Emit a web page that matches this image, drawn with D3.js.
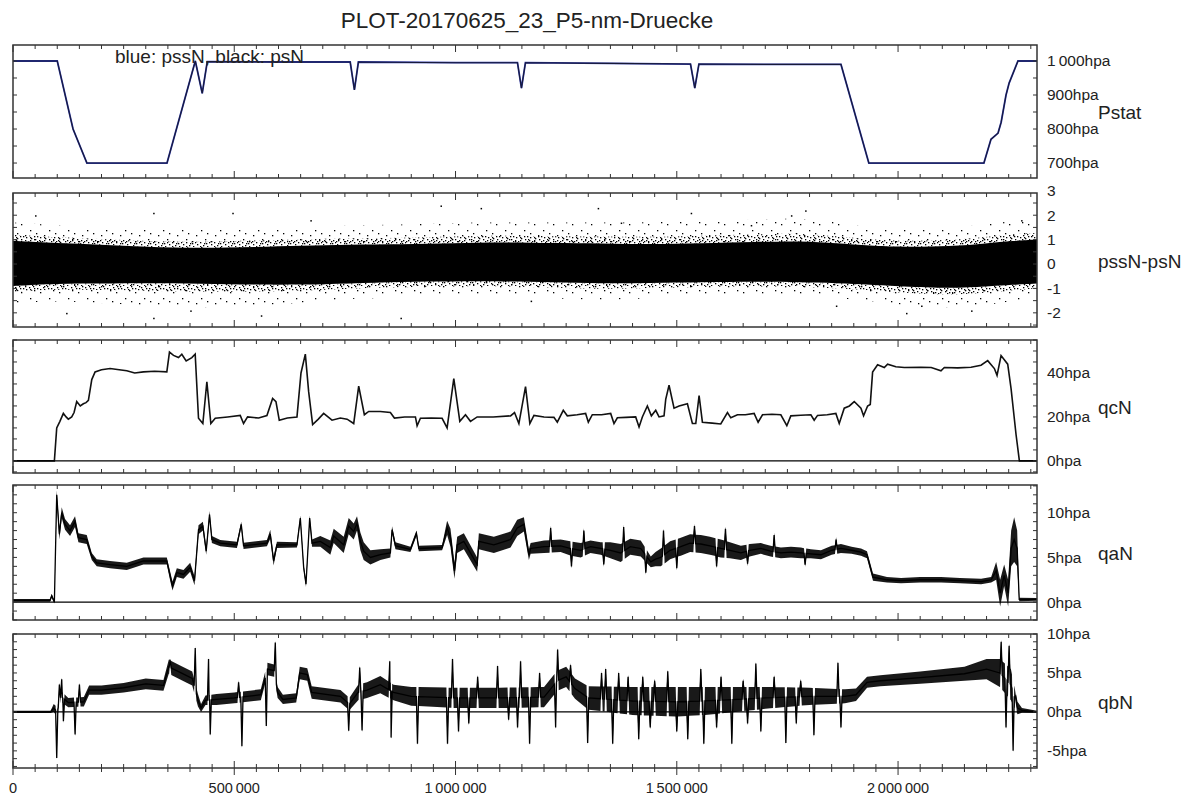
<!DOCTYPE html>
<html lang="en">
<head>
<meta charset="UTF-8">
<title>PLOT-20170625_23_P5-nm-Druecke</title>
<script src="https://d3js.org/d3.v7.min.js"></script>
<style>
    body { margin: 0; background: #fff; }
    svg text { font-family: "Liberation Sans", Arial, sans-serif; fill: #222; }
</style>
</head>
<body>
<svg id="chart" width="1193" height="799"></svg>
<script>
// ---- data (x = sample index) ----
const xMax = 2314000;
const xLabelValues = [0, 500000, 1000000, 1500000, 2000000];
const xLabels = ["0", "500\u2009000", "1\u2009000\u2009000", "1\u2009500\u2009000", "2\u2009000\u2009000"];

// Pstat [x, hpa]
const pssN = [[0,1000],[100000,1000],[135700,800],[167000,700],[348000,700],[412000,1000],[427600,905],
    [439000,998],[600000,997],[762000,997],[771500,915],[780500,997],[1000000,995],[1140000,995],[1149000,920],
    [1158000,995],[1350000,993],[1531000,991],[1540700,920],[1550000,991],[1700000,990],[1871000,990],
    [1934000,700],[2194000,700],[2210000,770],[2226000,788],[2233000,820],[2244000,900],[2251000,935],
    [2271000,1000],[2314000,1000]];
const psN = pssN; // the two traces lie on top of each other at this scale
const pstatTicks = [700, 800, 900, 1000];

// pssN-psN band [x, coreHi, coreLo, outerHi, outerLo]
const diffBand = [[0,0.95,-0.9,1.7,-1.6],[100000,0.85,-0.8,1.6,-1.5],[196800,0.8,-0.8,1.5,-1.6],
    [300000,0.7,-0.78,1.4,-1.7],[423100,0.65,-0.8,1.4,-1.8],[550000,0.7,-0.85,1.5,-1.7],
    [649300,0.75,-0.85,1.5,-1.6],[760000,0.8,-0.8,1.6,-1.4],[875500,0.8,-0.72,1.6,-1.4],
    [1000000,0.85,-0.72,1.7,-1.3],[1101800,0.9,-0.7,1.7,-1.3],[1220000,0.85,-0.75,1.7,-1.4],
    [1328000,0.85,-0.8,1.7,-1.5],[1440000,0.8,-0.78,1.7,-1.4],[1554300,0.85,-0.75,1.8,-1.3],
    [1680000,0.9,-0.72,1.8,-1.3],[1780500,0.95,-0.75,1.9,-1.3],[1860000,0.85,-0.78,1.7,-1.4],
    [1938900,0.75,-0.85,1.5,-1.5],[2006700,0.7,-0.92,1.4,-1.7],[2119900,0.72,-1.0,1.5,-1.8],
    [2200000,0.85,-0.92,1.6,-1.7],[2260000,0.95,-0.85,1.8,-1.5],[2314000,1.0,-0.8,1.8,-1.4]];
const diffOutliers = [[49800,2.0],[120000,-2.0],[316700,2.1],[316700,-2.2],[400500,-1.9],[495500,2.1],
    [560000,-2.1],[671900,1.8],[875500,-2.2],[966000,2.4],[1056600,2.3],[1169700,-1.5],[1321200,2.3],
    [1373300,1.7],[1531400,2.1],[1667100,1.6],[1757900,2.0],[1790000,2.2],[1859500,-1.7],[2018000,-2.0],
    [2052000,-1.7],[2165000,-1.9],[2278000,1.8]];
const diffTicks = [-2, -1, 0, 1, 2, 3];

// qcN [x, hpa]
const qcN = [[0,0],[93500,0],[98800,15],[106000,18],[113800,21.6],[120000,20],[125000,19],[132700,20],
    [138000,22],[144000,27],[152000,25],[159000,26],[165000,26.5],[170400,27.5],[178000,37],[185500,40.5],
    [200000,41.5],[219400,42],[240000,41.5],[257100,41],[275000,40],[294800,40.5],[320000,40.8],[347600,40.5],
    [353600,49.5],[362700,48],[374000,47],[381500,48.5],[391300,45.5],[404200,47],[411700,48.6],
    [419200,19.4],[429000,17],[438100,36],[447100,17],[457000,19.4],[485000,20],[513500,20.7],[521000,17],
    [530100,20],[555000,19.5],[573800,20.6],[586700,28.4],[594200,27],[601700,18.5],[620000,19.5],
    [641700,20],[650800,40],[660600,48.6],[668100,31.5],[677100,16.5],[690000,19],[702000,21.6],
    [720900,18.5],[739700,19.5],[755000,19],[769900,17],[781200,34],[794000,21],[803800,22.5],
    [830000,22.5],[852800,22],[861900,19.5],[885000,20],[909400,20],[913200,16],[920700,19.4],[945000,19.5],
    [969700,19.4],[981000,15],[996100,37.4],[1009700,18],[1022500,21],[1033800,18],[1048900,20],
    [1085000,20],[1124300,20.5],[1133300,22],[1143200,17],[1158200,33.8],[1168000,17],[1177200,20.7],
    [1200000,20],[1222400,19.8],[1230000,17.6],[1243500,23],[1252600,20.5],[1275000,21],[1294000,21.6],
    [1300100,17.6],[1309100,21],[1330000,21],[1350600,21.6],[1358100,17],[1365700,19.6],[1385000,19.8],
    [1407100,20],[1414700,15.4],[1422200,20],[1433500,25],[1442600,20.5],[1452400,23],[1459900,20],
    [1471200,20.5],[1475000,28],[1482500,34.4],[1493800,24],[1505200,25],[1524000,26],[1535300,17],
    [1542900,17],[1550400,29.7],[1557900,17.6],[1580000,17.2],[1599400,16.8],[1614500,22],[1622000,19.6],
    [1637100,21],[1655000,21],[1674800,21.6],[1683800,17.6],[1693700,21],[1715000,21.2],[1735100,21],
    [1748700,16],[1757700,20.5],[1780000,20.8],[1803000,21],[1810500,18.5],[1818100,20.7],[1840000,21],
    [1859500,21.6],[1867100,17],[1878400,24],[1890000,25],[1901000,27],[1916100,24],[1922100,20.5],
    [1931200,25],[1937200,25.7],[1942500,40.4],[1953800,43.7],[1968900,42.5],[1976400,44],[1995000,42.8],
    [2014100,42.5],[2051800,42.6],[2075000,42.5],[2097000,41],[2104600,42.5],[2135000,42.3],[2164900,42.6],
    [2187500,43.5],[2202600,45.6],[2217700,42],[2223700,38.9],[2232800,47.9],[2247800,44],[2255400,32.9],
    [2266700,11.9],[2274200,0],[2314000,0]];
const qcTicks = [0, 20, 40];

// qaN [x, hpa, noise half-width]
const qaN = [[0,0.2,0.15],[83700,0.2,0.15],[87500,0.7,0.2],[93500,0,0.15],[98800,12,0.5],[104800,7.6,0.6],
    [110100,10,0.6],[117600,8.7,0.6],[128900,8,0.6],[140200,9,0.6],[147800,7.2,0.5],[166600,7,0.5],
    [178000,5.1,0.4],[189200,4.4,0.4],[219400,4.2,0.4],[257100,4,0.4],[294800,4.6,0.4],[347600,4.6,0.4],
    [355200,2.9,0.5],[360400,1.8,0.5],[370200,3.3,0.5],[385300,3.1,0.5],[400400,3.9,0.5],[410200,2.4,0.5],
    [419200,8.1,0.5],[429100,8.5,0.5],[436600,5.7,0.4],[444100,9.8,0.4],[449400,7,0.4],[468300,6.6,0.35],
    [506000,6.4,0.35],[515800,8.7,0.3],[521000,6.3,0.35],[573800,6.6,0.35],[581400,7.6,0.5],
    [588900,4.6,0.5],[596400,6.4,0.35],[641700,6.4,0.3],[649300,9.4,0.3],[656800,3.9,0.3],
    [662100,2,0.3],[670400,9.4,0.3],[675700,6.6,0.4],[694500,6.8,0.6],[717100,6.1,0.8],[724700,7.4,0.8],
    [747300,6.4,0.9],[758600,8.5,0.9],[769900,7.9,0.9],[777400,8.8,0.8],[785000,6.8,1.0],[792500,5.7,1.0],
    [807600,5,0.8],[830200,5.3,0.6],[852800,5.5,0.5],[856600,8.1,0.4],[864200,6.3,0.4],[898100,5.9,0.3],
    [911700,7.7,0.3],[917000,6,0.3],[969700,6.1,0.3],[981000,8.3,0.8],[988600,7.2,1.0],[997600,3.5,0.9],
    [1003700,6.4,0.9],[1018800,6.8,0.9],[1048900,4.2,0.8],[1052700,6.8,0.9],[1086600,6.4,0.9],
    [1124300,7,0.9],[1139400,8.3,0.9],[1154500,8.7,0.8],[1165800,5.3,0.6],[1169700,6,0.6],
    [1200000,6.2,0.7],[1237500,6.3,0.7],[1260000,6.0,0.8],[1282800,5.8,0.8],[1305000,6.2,0.7],
    [1328000,6,0.7],[1350000,5.8,0.9],[1373300,5.5,1.0],[1395000,6.2,0.9],[1418500,6,0.9],
    [1441200,4.5,0.6],[1452000,4.8,0.8],[1463800,5,1.0],[1485000,5.8,1.0],[1509000,6.2,1.0],
    [1530000,6.6,1.0],[1554300,6.5,1.0],[1575000,6.3,1.0],[1599500,6,1.0],[1620000,5.8,0.9],
    [1644800,5.5,0.8],[1665000,5.8,0.7],[1690000,6,0.6],[1712000,5.7,0.6],[1735300,5.5,0.6],
    [1758000,5.6,0.6],[1780500,5.5,0.6],[1803000,5.4,0.5],[1825800,5.3,0.5],[1850000,5.8,0.5],
    [1871000,6,0.5],[1895000,5.8,0.4],[1916300,5.6,0.4],[1929800,5.3,0.4],[1943400,2.8,0.4],
    [1975000,2.5,0.3],[2006700,2.4,0.3],[2050000,2.5,0.3],[2097200,2.5,0.3],[2140000,2.4,0.3],
    [2187700,2.3,0.3],[2210400,2.5,0.3],[2221700,3.5,1.0],[2230700,1,1.5],[2239800,3,1.2],
    [2248800,1,1.5],[2255600,6,2.0],[2262400,7,2.5],[2269200,6,2.0],[2273800,0.3,0.2],[2314000,0.3,0.15]];
const qaSpikes = [[1215000,8.3],[1262000,4.0],[1290000,8.0],[1335000,4.2],[1380000,8.4],[1430000,3.3],
    [1470000,8.0],[1500000,3.8],[1540000,8.5],[1590000,4.0],[1610000,8.2],[1660000,4.3],[1720000,7.5],
    [1790000,4.2],[1860000,7.0]];
const qaTicks = [0, 5, 10];

// qbN base trace [x, hpa, noise half-width] and narrow spikes [x, hpa]
const qbBase = [[0,0,0.15],[85000,0,0.15],[92000,0.5,0.5],[100000,0,0.6],[108000,2.0,0.7],[125000,1.2,0.6],
    [160000,1.3,0.6],[172000,2.8,0.6],[200000,2.8,0.6],[250000,3.1,0.6],[300000,3.6,0.7],[340000,3.4,0.7],
    [352000,5.8,0.9],[380000,5.0,0.9],[405000,4.3,0.9],[418000,1.5,0.8],[425000,0.5,0.5],[435000,1.5,0.6],
    [460000,1.6,0.7],[500000,1.8,0.7],[560000,2.2,0.7],[575000,5.5,0.8],[590000,5.3,0.8],[598000,2.5,0.7],
    [610000,1.6,0.6],[640000,1.8,0.6],[648000,5.0,0.8],[665000,4.8,0.8],[675000,2.5,0.8],[740000,2.0,0.8],
    [760000,1.0,0.8],[780000,2.5,1.0],[800000,2.8,1.0],[830000,3.5,1.1],[860000,2.5,1.0],[900000,2.0,1.2],
    [1000000,1.8,1.3],[1100000,1.8,1.3],[1200000,1.9,1.3],[1230000,4.0,1.3],[1250000,4.5,1.3],
    [1270000,3.0,1.3],[1300000,1.8,1.5],[1400000,1.4,1.8],[1500000,1.3,1.9],[1560000,1.4,1.8],
    [1600000,1.5,1.7],[1700000,1.8,1.4],[1800000,2.0,1.1],[1880000,2.0,0.9],[1905000,2.2,0.8],
    [1930000,3.8,0.7],[1960000,4.0,0.7],[2050000,4.4,0.8],[2150000,4.9,0.9],[2200000,5.5,1.3],
    [2230000,5.0,1.8],[2255000,3.5,2.0],[2270000,0.5,0.8],[2280000,0.2,0.3],[2314000,0,0.15]];
const qbSpikes = [[98800,-5.9],[104800,3.5],[110100,4.2],[113900,-1.2],[140300,-2.9],[150100,3.5],
    [355200,6.5],[411800,8.2],[441900,6.8],[445700,-2.9],[509800,3.8],[517300,-4.4],[572400,-1.8],
    [592700,8.9],[758600,-2.4],[783500,5.7],[788800,-2.4],[851400,6.5],[854400,-3.3],[914000,-4.1],
    [981900,-4.1],[993200,6.8],[1006800,-2.5],[1030000,-1.5],[1050000,4.5],[1095000,5.9],[1120000,-1.0],
    [1140200,-2],[1147000,6.5],[1167400,-4.1],[1190000,5.0],[1226200,-2],[1230700,8],[1260000,6.0],
    [1298600,-4],[1330000,5.0],[1339300,5.5],[1355200,-4.1],[1368700,5],[1390000,4.5],[1414000,-3.5],
    [1423100,4.5],[1440000,-2.0],[1450000,4.0],[1479600,5.2],[1500000,-2.5],[1524800,-3.5],[1554300,5.5],
    [1561100,-4.1],[1590000,-2.0],[1600000,4.5],[1624400,-4.1],[1650000,4.0],[1660000,-1.5],[1678700,6.2],
    [1690000,-2.5],[1720000,4.5],[1746500,-4],[1770000,-1.5],[1780000,4.0],[1809900,-3],[1864200,6.3],
    [1871000,-2],[2233000,9],[2244000,-2],[2251000,8.5],[2260000,-5.0],[2266000,2]];
const qbTicks = [-5, 0, 5, 10];

// ---- layout ----
const svg = d3.select("#chart");
const left = 13, right = 1037;
const x = d3.scaleLinear().domain([0, xMax]).range([left, right]);

const panels = [
    { name: "Pstat", top: 45, bottom: 178, domain: [656, 1047], step: 50, ticks: pstatTicks, unit: "hpa" },
    { name: "pssN-psN", top: 193, bottom: 327, domain: [-2.58, 2.91], step: 0.5, ticks: diffTicks, unit: "" },
    { name: "qcN", top: 340, bottom: 473, domain: [-5.5, 55], step: 5, ticks: qcTicks, unit: "hpa", zero: true },
    { name: "qaN", top: 485, bottom: 620, domain: [-2, 13.1], step: 1, ticks: qaTicks, unit: "hpa", zero: true },
    { name: "qbN", top: 634, bottom: 768, domain: [-7.2, 10], step: 1, ticks: qbTicks, unit: "hpa", zero: true }
];

const fmtNum = v => {
    const s = String(Math.abs(v));
    const t = s.length > 3 ? s.slice(0, s.length - 3) + "\u2009" + s.slice(-3) : s;
    return (v < 0 ? "-" : "") + t;
};

// merge narrow spikes into a base trace
function withSpikes(base, spikes, w) {
    const xs = base.map(d => d[0]);
    const at = xv => {
        const i = Math.max(1, Math.min(xs.length - 1, d3.bisectLeft(xs, xv)));
        const a = base[i - 1], b = base[i], t = (xv - a[0]) / (b[0] - a[0]);
        return [a[1] + (b[1] - a[1]) * t, a[2] + (b[2] - a[2]) * t];
    };
    const pts = base.filter(d => !spikes.some(s => Math.abs(s[0] - d[0]) < w));
    spikes.forEach(([sx, sv]) => {
        const l = at(sx - w), r = at(sx + w);
        pts.push([sx - w, l[0], l[1]], [sx, sv, 0.25], [sx + w, r[0], r[1]]);
    });
    return pts.sort((a, b) => a[0] - b[0]);
}

// stipple patterns for the scatter fringe
const defs = svg.append("defs");
const denseDots = [[1,1],[5,0],[9,2],[3,4],[7,5],[11,6],[0,7],[4,8],[8,9],[6,2],[2,6],[10,9],[12,3],[13,8],[1,10],[7,11],[11,12],[4,12],[9,7],[2,3]];
const sparseDots = [[2,3],[11,9],[6,14],[15,1],[17,12]];
[["dense", 14, 13, denseDots], ["sparse", 19, 17, sparseDots]].forEach(([id, w, h, dots]) => {
    const p = defs.append("pattern").attr("id", id).attr("patternUnits", "userSpaceOnUse")
        .attr("width", w).attr("height", h);
    dots.forEach(d => p.append("rect").attr("x", d[0]).attr("y", d[1]).attr("width", 1.3).attr("height", 1.3).attr("fill", "#000"));
});

panels.forEach((p, i) => {
    p.y = d3.scaleLinear().domain(p.domain).range([p.bottom, p.top]);
    defs.append("clipPath").attr("id", "clip" + i)
        .append("rect").attr("x", left).attr("y", p.top).attr("width", right - left).attr("height", p.bottom - p.top);
    p.g = svg.append("g");
    p.plot = p.g.append("g").attr("clip-path", `url(#clip${i})`);
});

// panel 1: Pstat
{
    const p = panels[0];
    const line = d3.line().x(d => x(d[0])).y(d => p.y(d[1]));
    p.plot.append("path").datum(pssN).attr("d", line).attr("fill", "none").attr("stroke", "#2b35a8").attr("stroke-width", 1.8);
    p.plot.append("path").datum(psN).attr("d", line).attr("fill", "none").attr("stroke", "#111").attr("stroke-width", 1.1).attr("stroke-opacity", 0.75);
}

// panel 2: pssN-psN
{
    const p = panels[1];
    const area = (hi, lo) => d3.area().x(d => x(d[0])).y0(lo).y1(hi).curve(d3.curveBasis);
    p.plot.append("path").datum(diffBand)
        .attr("d", area(d => p.y(d[3]), d => p.y(d[4]))).attr("fill", "url(#sparse)");
    p.plot.append("path").datum(diffBand)
        .attr("d", area(d => p.y((d[1] * 2 + d[3]) / 3), d => p.y(d[1]))).attr("fill", "url(#dense)");
    p.plot.append("path").datum(diffBand)
        .attr("d", area(d => p.y(d[2]), d => p.y((d[2] * 2 + d[4]) / 3))).attr("fill", "url(#dense)");
    p.plot.append("path").datum(diffBand)
        .attr("d", area(d => p.y(d[1]), d => p.y(d[2]))).attr("fill", "#000");
    p.plot.selectAll("rect.out").data(diffOutliers).join("rect").attr("class", "out")
        .attr("x", d => x(d[0])).attr("y", d => p.y(d[1])).attr("width", 1.5).attr("height", 1.5).attr("fill", "#000");
}

// panel 3: qcN
{
    const p = panels[2];
    p.plot.append("path").datum(qcN)
        .attr("d", d3.line().x(d => x(d[0])).y(d => p.y(d[1])))
        .attr("fill", "none").attr("stroke", "#111").attr("stroke-width", 1.6);
}

// panels 4,5: noisy traces
[[panels[3], withSpikes(qaN, qaSpikes, 2500)], [panels[4], withSpikes(qbBase, qbSpikes, 2500)]].forEach(([p, data]) => {
    p.plot.append("path").datum(data)
        .attr("d", d3.area().x(d => x(d[0])).y0(d => p.y(d[1] - d[2])).y1(d => p.y(d[1] + d[2])))
        .attr("fill", "#000").attr("fill-opacity", 0.9);
    p.plot.append("path").datum(data)
        .attr("d", d3.line().x(d => x(d[0])).y(d => p.y(d[1])))
        .attr("fill", "none").attr("stroke", "#000").attr("stroke-width", 1.3);
});

// frames, ticks, labels
const xMinor = d3.range(0, xMax + 1, 50000);
panels.forEach((p, i) => {
    const g = p.g;
    if (p.zero) {
        g.append("line").attr("x1", left).attr("x2", right).attr("y1", p.y(0)).attr("y2", p.y(0))
            .attr("stroke", "#000").attr("stroke-width", 1.2);
    }
    const last = i === panels.length - 1;
    xMinor.forEach(v => {
        const major = v % 500000 === 0;
        const len = major ? 7 : 4;
        g.append("line").attr("x1", x(v)).attr("x2", x(v)).attr("y1", p.top).attr("y2", p.top + len)
            .attr("stroke", "#333").attr("stroke-width", 1);
        g.append("line").attr("x1", x(v)).attr("x2", x(v))
            .attr("y1", p.bottom - len).attr("y2", last ? p.bottom + (major ? 7 : 4) : p.bottom)
            .attr("stroke", "#333").attr("stroke-width", 1);
    });
    const yMinor = d3.range(Math.ceil(p.domain[0] / p.step) * p.step, p.domain[1] + 1e-9, p.step);
    yMinor.forEach(v => {
        const yy = p.y(v);
        g.append("line").attr("x1", left).attr("x2", left + 4).attr("y1", yy).attr("y2", yy).attr("stroke", "#333");
        g.append("line").attr("x1", right - 4).attr("x2", right).attr("y1", yy).attr("y2", yy).attr("stroke", "#333");
    });
    g.append("rect").attr("x", left).attr("y", p.top).attr("width", right - left).attr("height", p.bottom - p.top)
        .attr("fill", "none").attr("stroke", "#333").attr("stroke-width", 1.5);
    g.selectAll("text.tl").data(p.ticks).join("text").attr("class", "tl")
        .attr("x", 1047).attr("y", d => p.y(d)).attr("dy", "0.35em")
        .attr("font-size", "15.5px").text(d => fmtNum(d) + p.unit);
    g.append("text").attr("x", 1098).attr("y", (p.top + p.bottom) / 2 + 1).attr("dy", "0.35em")
        .attr("font-size", "19px").text(p.name);
});

// bottom x labels
svg.selectAll("text.xl").data(xLabelValues).join("text").attr("class", "xl")
    .attr("x", d => x(d)).attr("y", 793).attr("text-anchor", "middle")
    .attr("font-size", "14.5px").text((d, i) => xLabels[i]);

// title & legend
svg.append("text").attr("x", 527).attr("y", 28).attr("text-anchor", "middle")
    .attr("font-size", "22.5px").text("PLOT-20170625_23_P5-nm-Druecke");
svg.append("text").attr("x", 115).attr("y", 63).attr("font-size", "19px").text("blue: pssN, black: psN");
</script>
</body>
</html>
